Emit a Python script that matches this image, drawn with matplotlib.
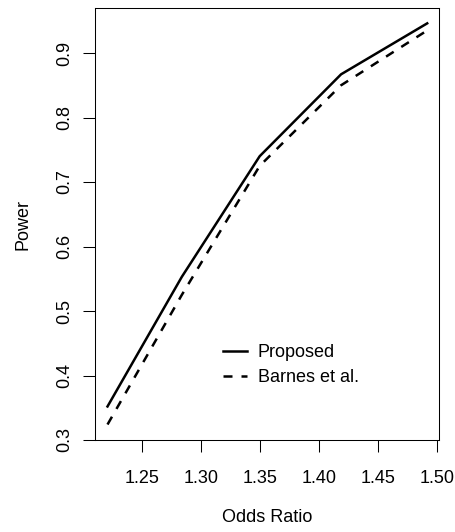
import matplotlib
matplotlib.use("Agg")
import matplotlib.pyplot as plt

odds_ratio = [1.221, 1.284, 1.350, 1.419, 1.492]
power_proposed = [0.352, 0.553, 0.740, 0.867, 0.946]
power_barnes = [0.324, 0.525, 0.725, 0.850, 0.935]

xticks = [1.25, 1.30, 1.35, 1.40, 1.45, 1.50]
yticks = [0.3, 0.4, 0.5, 0.6, 0.7, 0.8, 0.9]

plt.rcParams["font.family"] = ["Liberation Sans", "DejaVu Sans"]
fs = 13

fig = plt.figure(figsize=(4.56, 5.32), dpi=100)
ax = fig.add_axes([95/456, 1-440/532, 344/456, 432/532])

ax.plot(odds_ratio, power_proposed, color="black", lw=1.8, label="Proposed")
ax.plot(odds_ratio, power_barnes, color="black", lw=1.8, dashes=(3.6, 3.6),
        label="Barnes et al.")

ax.set_xlim(1.2104, 1.502)
ax.set_ylim(0.3, 0.9698)
ax.set_xticks(xticks)
ax.set_xticklabels([f"{t:.2f}" for t in xticks], fontsize=fs)
ax.set_yticks(yticks)
ax.set_yticklabels([f"{t:.1f}" for t in yticks], fontsize=fs, rotation=90,
                   va="center")
ax.tick_params(length=8.5, width=0.75)
ax.tick_params(axis="x", pad=13)
ax.tick_params(axis="y", pad=7)
for s in ax.spines.values():
    s.set_linewidth(0.75)

ax.set_xlabel("Odds Ratio", fontsize=fs, labelpad=16)
ax.set_ylabel("Power", fontsize=fs, labelpad=18)

ax.legend(loc="upper left", bbox_to_anchor=(0.371, 0.222), frameon=False,
          fontsize=fs, handlelength=1.36, handletextpad=0.58,
          labelspacing=0.45, borderpad=0, borderaxespad=0)

fig.savefig("out.png", dpi=100)
